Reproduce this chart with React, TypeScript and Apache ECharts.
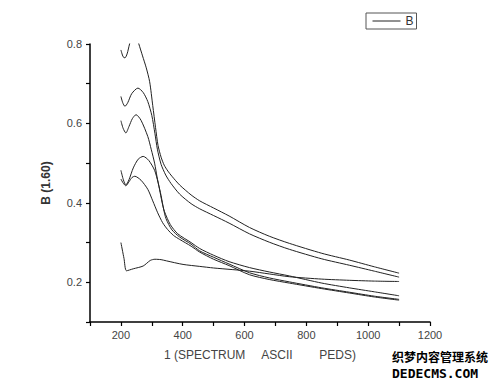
import React, { useEffect, useRef } from "react";
import * as echarts from "echarts";

const A_x = [200, 207, 213, 220, 228, 238, 248, 258, 270, 282, 293, 303, 312, 320, 330, 340, 352, 365, 390, 427, 455, 500, 550, 616, 680, 745, 850, 939, 1020, 1100];
const A_y = [0.785, 0.768, 0.765, 0.775, 0.8, 0.825, 0.825, 0.8, 0.77, 0.74, 0.705, 0.645, 0.59, 0.545, 0.515, 0.495, 0.48, 0.467, 0.445, 0.42, 0.405, 0.387, 0.367, 0.338, 0.316, 0.298, 0.273, 0.256, 0.239, 0.223];

const B_x = [200, 206, 213, 222, 235, 255, 272, 287, 300, 310, 318, 330, 345, 362, 390, 427, 455, 500, 550, 616, 680, 745, 850, 939, 1020, 1100];
const B_y = [0.668, 0.652, 0.643, 0.652, 0.675, 0.689, 0.678, 0.655, 0.62, 0.575, 0.535, 0.497, 0.47, 0.449, 0.422, 0.398, 0.385, 0.368, 0.349, 0.322, 0.301, 0.283, 0.259, 0.243, 0.228, 0.213];

const C_x = [200, 207, 216, 226, 237, 249, 265, 287, 298, 309, 317, 325, 333, 341, 360, 384, 427, 455, 500, 550, 616, 680, 745, 850, 939, 1020, 1100];
const C_y = [0.607, 0.588, 0.576, 0.592, 0.612, 0.622, 0.608, 0.567, 0.535, 0.5, 0.465, 0.434, 0.402, 0.378, 0.345, 0.322, 0.3, 0.285, 0.268, 0.252, 0.237, 0.226, 0.216, 0.198, 0.186, 0.176, 0.166];

const D_x = [200, 208, 216, 226, 240, 256, 272, 290, 309, 320, 330, 338, 346, 365, 390, 427, 455, 500, 550, 616, 680, 745, 850, 939, 1020, 1100];
const D_y = [0.482, 0.458, 0.445, 0.458, 0.488, 0.51, 0.517, 0.507, 0.482, 0.452, 0.418, 0.385, 0.36, 0.332, 0.314, 0.296, 0.279, 0.263, 0.246, 0.224, 0.211, 0.201, 0.186, 0.175, 0.165, 0.157];

const E_x = [200, 208, 216, 226, 236, 245, 265, 287, 303, 319, 335, 351, 370, 390, 427, 455, 500, 550, 616, 680, 745, 850, 939, 1020, 1100];
const E_y = [0.46, 0.449, 0.443, 0.453, 0.464, 0.467, 0.457, 0.434, 0.405, 0.375, 0.35, 0.333, 0.318, 0.308, 0.291, 0.276, 0.258, 0.242, 0.219, 0.207, 0.198, 0.184, 0.173, 0.163, 0.155];

const F_x = [200, 210, 218, 240, 272, 295, 310, 330, 347, 401, 455, 500, 560, 616, 680, 745, 850, 939, 1020, 1100];
const F_y = [0.3, 0.26, 0.229, 0.234, 0.241, 0.255, 0.258, 0.257, 0.254, 0.245, 0.24, 0.236, 0.232, 0.228, 0.221, 0.214, 0.208, 0.205, 0.203, 0.202];

const CURVES: [number[], number[]][] = [
  [A_x, A_y],
  [B_x, B_y],
  [C_x, C_y],
  [D_x, D_y],
  [E_x, E_y],
  [F_x, F_y],
];

const SERIES_NAME = "B";
const X_NAME = "1 (SPECTRUM     ASCII        PEDS)";
const Y_NAME = "B (1.60)";

export default function App() {
  const ref = useRef<HTMLDivElement>(null);
  useEffect(() => {
    if (!ref.current) return;
    const chart = echarts.init(ref.current, undefined, { renderer: "svg" });
    const font = "'Liberation Sans', Arial, sans-serif";
    chart.setOption({
      animation: false,
      backgroundColor: "#fff",
      grid: { left: 90, right: 70, top: 44, bottom: 65 },
      legend: {
        left: 366,
        top: 13,
        padding: [2, 3, 2, 6],
        borderColor: "#555",
        borderWidth: 1,
        itemWidth: 28,
        itemHeight: 14,
        itemStyle: { opacity: 0 },
        lineStyle: { color: "#222", width: 1 },
        textStyle: { fontSize: 12, color: "#333", fontFamily: font },
        data: [SERIES_NAME],
      },
      xAxis: {
        type: "value",
        min: 100,
        max: 1200,
        interval: 100,
        name: X_NAME,
        nameLocation: "middle",
        nameGap: 27,
        nameTextStyle: { fontSize: 12, color: "#444", fontFamily: font },
        splitLine: { show: false },
        axisLine: { show: true, lineStyle: { color: "#000", width: 1.5 } },
        axisTick: { show: true, length: 4, lineStyle: { color: "#000", width: 1.2 } },
        axisLabel: {
          fontSize: 11,
          color: "#444",
          fontFamily: font,
          margin: 7,
          formatter: (v: number) => (Math.round(v) % 200 === 0 ? String(v) : ""),
        },
      },
      yAxis: {
        type: "value",
        min: 0.1,
        max: 0.8,
        interval: 0.1,
        name: Y_NAME,
        nameLocation: "middle",
        nameGap: 38,
        nameTextStyle: { fontSize: 12, color: "#333", fontWeight: "bold", fontFamily: font },
        splitLine: { show: false },
        axisLine: { show: true, lineStyle: { color: "#000", width: 1.5 } },
        axisTick: { show: true, length: 4, lineStyle: { color: "#000", width: 1.2 } },
        axisLabel: {
          fontSize: 11,
          color: "#444",
          fontFamily: font,
          margin: 8,
          formatter: (v: number) => {
            const k = Math.round(v * 10);
            return k % 2 === 0 && k > 1 ? (k / 10).toFixed(1) : "";
          },
        },
      },
      series: CURVES.map(([xs, ys]) => ({
        name: SERIES_NAME,
        type: "line",
        symbol: "none",
        smooth: 0.25,
        clip: true,
        lineStyle: { color: "#222", width: 1 },
        itemStyle: { color: "#222" },
        data: xs.map((x, i) => [x, ys[i]]),
      })),
      graphic: [
        {
          type: "text",
          left: 392,
          top: 350,
          style: {
            text: "织梦内容管理系统",
            font: "bold 12px 'Noto Sans CJK SC'",
            fill: "#000",
          },
        },
        {
          type: "text",
          left: 392,
          top: 367,
          style: {
            text: "DEDECMS.COM",
            font: "bold 13px 'DejaVu Sans Mono', monospace",
            fill: "#000",
          },
        },
      ],
    });
    return () => chart.dispose();
  }, []);
  return (
    <div
      ref={ref}
      style={{ position: "absolute", left: 0, top: 0, width: 500, height: 387 }}
    />
  );
}
